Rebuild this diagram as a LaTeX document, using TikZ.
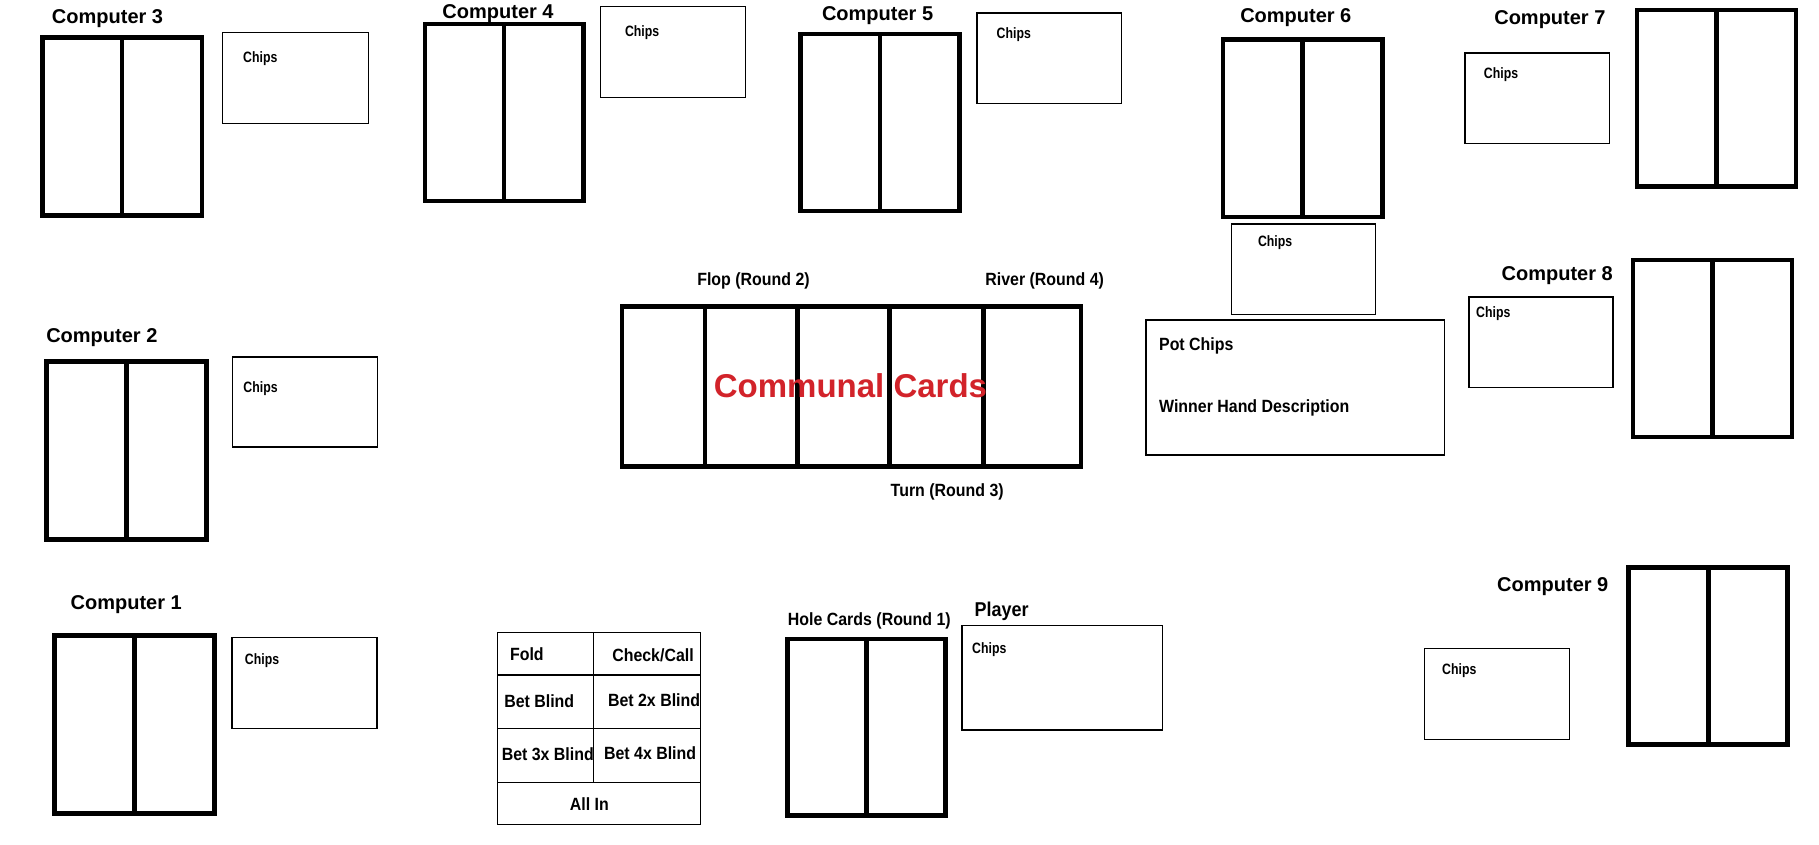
\documentclass[tikz,border=0pt]{standalone}
\usepackage{fontspec}
\setmainfont{Liberation Sans}
\newfontfamily\narrowlbl[FakeStretch=0.9]{Liberation Sans}
\newfontfamily\chipsfnt[FakeStretch=0.82]{Liberation Sans}
\usetikzlibrary{fit}
\definecolor{commred}{RGB}{210,35,42}
\tikzset{
  card/.style={draw, line width=4.6pt, inner sep=0pt, outer sep=0pt},
  divider/.style={line width=4.6pt},
  chipbox/.style={draw, line width=1.4pt, inner sep=0pt, outer sep=0pt},
  thinline/.style={line width=1.4pt},
  complbl/.style={font=\fontsize{20}{24}\selectfont\bfseries, anchor=base, inner sep=0pt},
  lbl/.style={font=\narrowlbl\fontsize{17.7}{21}\selectfont\bfseries, anchor=base, inner sep=0pt},
  lblw/.style={lbl, anchor=base west},
  chiplbl/.style={font=\chipsfnt\fontsize{15}{18}\selectfont\bfseries, anchor=base west, inner sep=0pt},
  commlbl/.style={font=\fontsize{33}{38}\selectfont\bfseries, text=commred, anchor=base, inner sep=0pt},
}
\newcommand\seatcard[5]{%
  \node[card, fit={(#2+2,#3+2)(#4-2,#5-2)}] (#1) {};
  \draw[divider] (#1.north) -- (#1.south);}
\newcommand\chipsbox[5]{%
  \node[chipbox, fit={(#2+0.6,#3+0.6)(#4-0.6,#5-0.6)}] (#1) {};}
\begin{document}
\begin{tikzpicture}[x=1.1601pt, y=-1.1601pt]
\useasboundingbox (0,0) rectangle (1568,728);

% Computer 3
\node[complbl] (l3) at (92.7,20.6) {Computer 3};
\seatcard{card3}{34.5}{30.2}{176}{187.9}
\chipsbox{box3}{191.4}{27.6}{318}{106.9}
\node[chiplbl] (t3) at (209.5,54.2) {Chips};

% Computer 4
\node[complbl] (l4) at (429.3,16.2) {Computer 4};
\seatcard{card4}{364.2}{18.7}{505}{175.3}
\chipsbox{box4}{517}{5.2}{643}{84.7}
\node[chiplbl] (t4) at (538.6,31.3) {Chips};

% Computer 5
\node[complbl] (l5) at (756.5,18) {Computer 5};
\seatcard{card5}{688.2}{27.3}{829.2}{183.9}
\chipsbox{box5}{841.7}{10.6}{967.3}{89.9}
\node[chiplbl] (t5) at (859,33.6) {Chips};

% Computer 6
\node[complbl] (l6) at (1117,19.1) {Computer 6};
\seatcard{card6}{1052.3}{32.2}{1193.5}{189}
\chipsbox{box6}{1060.8}{192.5}{1186.5}{271.8}
\node[chiplbl] (t6) at (1084.3,212.9) {Chips};

% Computer 7
\node[complbl] (l7) at (1336,21.3) {Computer 7};
\seatcard{card7}{1409}{6.6}{1550.3}{163}
\chipsbox{box7}{1262.3}{45}{1388}{124.4}
\node[chiplbl] (t7) at (1279,67.8) {Chips};

% Computer 8
\node[complbl] (l8) at (1342.3,242.2) {Computer 8};
\seatcard{card8}{1405.8}{222}{1546.7}{378.7}
\chipsbox{box8}{1265.7}{255.4}{1391}{334.7}
\node[chiplbl] (t8) at (1272.3,273.3) {Chips};

% Computer 2
\node[complbl] (l2) at (87.8,295) {Computer 2};
\seatcard{card2}{38.2}{309.7}{180.2}{466.9}
\chipsbox{box2}{200}{307}{326}{386}
\node[chiplbl] (t2) at (209.7,338.3) {Chips};

% Computer 1
\node[complbl] (l1) at (108.8,525.2) {Computer 1};
\seatcard{card1}{45}{546}{187}{703}
\chipsbox{box1}{199.5}{549}{325.6}{628.5}
\node[chiplbl] (t1) at (211,573.2) {Chips};

% Computer 9
\node[complbl] (l9) at (1338.5,510.2) {Computer 9};
\seatcard{card9}{1402}{487}{1543}{644}
\chipsbox{box9}{1227.5}{558.6}{1353.4}{638}
\node[chiplbl] (t9) at (1243,581.3) {Chips};

% Player
\node[lbl] (lhole) at (749.4,538.9) {Hole Cards (Round 1)};
\seatcard{cardp}{676.7}{548.8}{817}{705}
\node[font=\narrowlbl\fontsize{20}{24}\selectfont\bfseries, anchor=base west, inner sep=0pt] (lplayer) at (840,531) {Player};
\chipsbox{boxp}{828.5}{538.8}{1002.5}{630}
\node[chiplbl] (tp) at (837.9,562.9) {Chips};

% Communal cards
\node[card, fit={(536,264)(931.7,402)}] (comm) {};
\coordinate (d1) at (607.7,264);
\coordinate (d2) at (687.5,264);
\coordinate (d3) at (767,264);
\coordinate (d4) at (848,264);
\foreach \d in {d1,d2,d3,d4} \draw[divider] (\d) -- (\d |- comm.south);
\node[commlbl] (commtxt) at (733.1,342.5) {Communal Cards};
\node[lbl] (flop) at (649.5,246.4) {Flop (Round 2)};
\node[lbl] (river) at (900.5,246.4) {River (Round 4)};
\node[lbl] (turn) at (816.5,427.6) {Turn (Round 3)};

% Pot
\node[chipbox, fit={(987.9,275.9)(1245.4,392.2)}] (pot) {};
\node[lblw] (potchips) at (999,301.9) {Pot Chips};
\node[lblw] (winner) at (999,355.3) {Winner Hand Description};

% Action grid
\node[chipbox, fit={(429,545.1)(604,710.8)}] (grid) {};
\coordinate (h1) at (429,582);
\coordinate (h2) at (429,627.8);
\coordinate (h3) at (429,674.3);
\foreach \h in {h1,h2,h3} \draw[thinline] (\h) -- (\h -| grid.east);
\coordinate (vtop) at (511.5,545.1);
\draw[thinline] (vtop) -- (vtop |- h3);
\node[lbl] (fold) at (454.2,569.1) {Fold};
\node[lbl] (check) at (562.9,570.3) {Check/Call};
\node[lbl] (bet1) at (464.8,610) {Bet Blind};
\node[lbl] (bet2) at (563.8,608.6) {Bet 2x Blind};
\node[lbl] (bet3) at (472.2,655.9) {Bet 3x Blind};
\node[lbl] (bet4) at (560.4,654.5) {Bet 4x Blind};
\node[lbl] (allin) at (508,698.5) {All In};
\end{tikzpicture}
\end{document}
